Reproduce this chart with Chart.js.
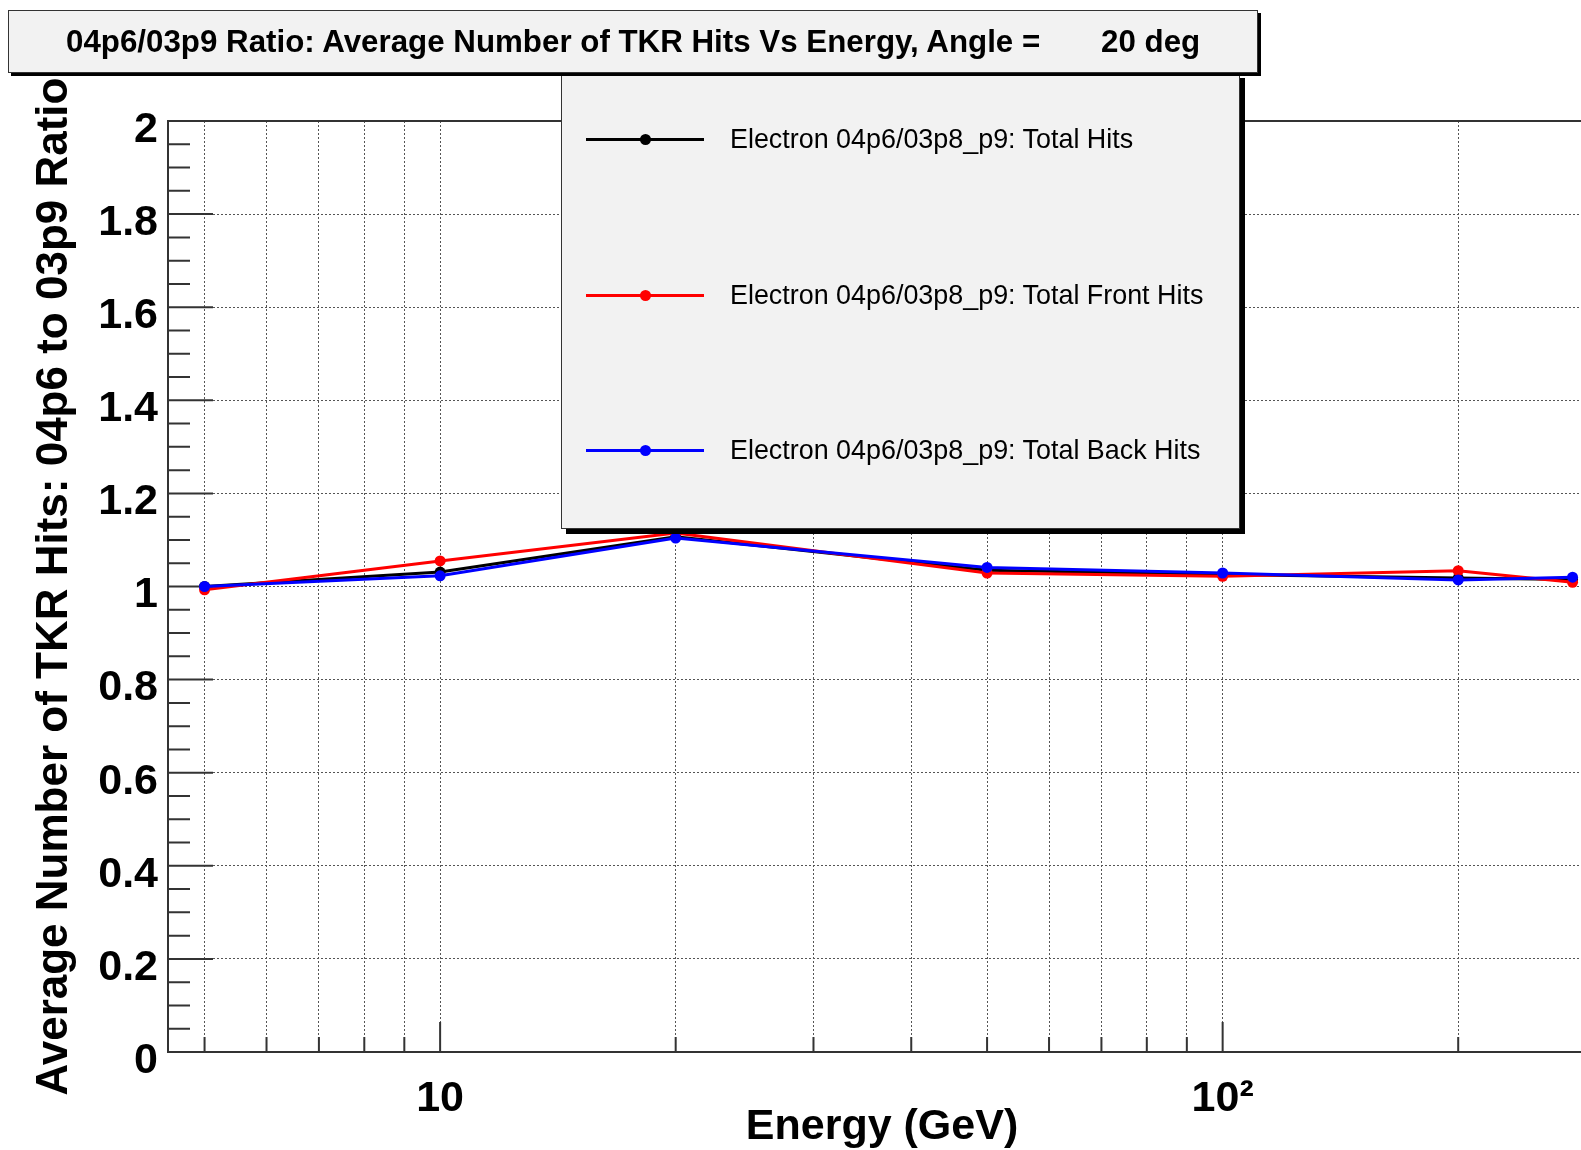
<!DOCTYPE html>
<html>
<head>
<meta charset="utf-8">
<script src="https://cdn.jsdelivr.net/npm/chart.js@4.4.1/dist/chart.umd.min.js"></script>
<style>
html, body { margin: 0; padding: 0; background: #fff; overflow: hidden; }
#wrap { position: relative; width: 1581px; height: 1150px; overflow: hidden; }
#plot { position: absolute; left: 0; top: 0; }
.box { position: absolute; background: #f2f2f2; border: 1px solid #333; font-family: "Liberation Sans", Arial, Helvetica, sans-serif; color: #000; }
#title { left: 8px; top: 10px; width: 1248px; height: 61px; box-shadow: 3px 3px 0 #000; z-index: 3; }
#title span { position: absolute; left: 57px; top: 0; line-height: 61px; font-size: 31.3px; font-weight: bold; white-space: pre; }
#legend { left: 561px; top: 73px; width: 677px; height: 454px; box-shadow: 5px 5px 0 #000; z-index: 2; }
.entry { position: absolute; left: 0; width: 670px; height: 40px; }
.entry .ln { position: absolute; left: 24px; top: 19px; width: 118px; height: 3px; }
.entry .dt { position: absolute; left: 78px; top: 15px; width: 11px; height: 11px; border-radius: 50%; }
.entry .tx { position: absolute; left: 168px; top: 0; line-height: 40px; font-size: 26.9px; white-space: pre; }
</style>
</head>
<body>
<div id="wrap">
  <canvas id="plot" width="1617" height="1150"></canvas>
  <div id="title" class="box"><span>04p6/03p9 Ratio: Average Number of TKR Hits Vs Energy, Angle =       20 deg</span></div>
  <div id="legend" class="box"></div>
</div>
<script>
// energies (GeV) and 04p6/03p8_p9 ratios
var energies   = [5, 10, 20, 50, 100, 200, 280];
var totalHits  = [1.000, 1.031, 1.107, 1.035, 1.026, 1.018, 1.015];
var frontHits  = [0.993, 1.055, 1.115, 1.029, 1.022, 1.034, 1.009];
var backHits   = [1.000, 1.023, 1.104, 1.041, 1.029, 1.014, 1.020];

var seriesNames  = ['Electron 04p6/03p8_p9: Total Hits', 'Electron 04p6/03p8_p9: Total Front Hits', 'Electron 04p6/03p8_p9: Total Back Hits'];
var seriesColors = ['#000000', '#ff0000', '#0000ff'];

var xTickValues = [5, 6, 7, 8, 9, 10, 20, 30, 40, 50, 60, 70, 80, 90, 100, 200, 300];
var xTickLabels = {10: '10', 100: '10\u00b2'};
var yTickValues = [0, 0.2, 0.4, 0.6, 0.8, 1, 1.2, 1.4, 1.6, 1.8, 2];

var FONT = '"Liberation Sans", Arial, Helvetica, sans-serif';

// legend box (html, like the ROOT TLegend)
var legendRowsY = [65, 221, 376];
var legendEl = document.getElementById('legend');
seriesNames.forEach(function(name, i) {
    var row = document.createElement('div');
    row.className = 'entry';
    row.style.top = (legendRowsY[i] - 20) + 'px';
    row.innerHTML = '<div class="ln" style="background:' + seriesColors[i] + '"></div>' +
        '<div class="dt" style="background:' + seriesColors[i] + '"></div>' +
        '<span class="tx">' + name + '</span>';
    legendEl.appendChild(row);
});

// inside tick marks + frame, ROOT style
const rootFrame = {
    id: 'rootFrame',
    beforeDatasetsDraw(chart) {
        const ctx = chart.ctx;
        const a = chart.chartArea;
        const x = chart.scales.x, y = chart.scales.y;
        ctx.save();
        ctx.strokeStyle = '#333';
        ctx.lineWidth = 2;
        ctx.beginPath();
        ctx.moveTo(a.left, a.top);
        ctx.lineTo(a.right, a.top);
        for (let i = 0; i <= 40; i++) {
            const py = y.getPixelForValue(i * 0.05);
            const len = (i % 4 === 0) ? 45 : 22;
            ctx.moveTo(a.left, py);
            ctx.lineTo(a.left + len, py);
        }
        xTickValues.forEach(function(v) {
            const px = x.getPixelForValue(v);
            const len = (v === 10 || v === 100) ? 30 : 15;
            ctx.moveTo(px, a.bottom);
            ctx.lineTo(px, a.bottom - len);
        });
        ctx.stroke();
        ctx.restore();
    }
};

function makeSet(label, data, color, order) {
    return {
        label: label,
        data: energies.map(function(e, i) { return {x: e, y: data[i]}; }),
        borderColor: color,
        backgroundColor: color,
        pointBackgroundColor: color,
        pointBorderColor: color,
        borderWidth: 3,
        pointRadius: 5.5,
        pointBorderWidth: 0,
        tension: 0,
        order: order
    };
}

new Chart(document.getElementById('plot'), {
    type: 'line',
    data: {
        datasets: [
            makeSet(seriesNames[0], totalHits, seriesColors[0], 3),
            makeSet(seriesNames[1], frontHits, seriesColors[1], 2),
            makeSet(seriesNames[2], backHits, seriesColors[2], 1)
        ]
    },
    options: {
        responsive: false,
        animation: false,
        devicePixelRatio: 1,
        layout: { padding: { left: 0, right: 21, top: 121, bottom: 0 } },
        plugins: { legend: { display: false }, tooltip: { enabled: false } },
        scales: {
            x: {
                type: 'logarithmic',
                min: 4.49,
                max: 300,
                afterBuildTicks: function(scale) {
                    scale.ticks = xTickValues.map(function(v) { return {value: v}; });
                },
                afterFit: function(scale) { scale.height = 98; },
                ticks: {
                    autoSkip: false,
                    maxRotation: 0,
                    padding: 21,
                    color: '#000',
                    font: { family: FONT, size: 43, weight: 'bold' },
                    callback: function(v) { return xTickLabels[v] || ''; }
                },
                grid: { color: '#555', lineWidth: 1, drawTicks: false },
                border: { display: true, color: '#333', width: 2, dash: [2, 2] },
                title: {
                    display: true,
                    text: 'Energy (GeV)',
                    color: '#000',
                    font: { family: FONT, size: 43, weight: 'bold', lineHeight: 1.05 },
                    padding: { top: 0, bottom: 0 }
                }
            },
            y: {
                min: 0,
                max: 2,
                afterBuildTicks: function(scale) {
                    scale.ticks = yTickValues.map(function(v) { return {value: v}; });
                },
                afterFit: function(scale) { scale.width = 168; },
                ticks: {
                    padding: 10,
                    labelOffset: 9,
                    color: '#000',
                    font: { family: FONT, size: 43, weight: 'bold' },
                    callback: function(v) { return String(Math.round(v * 10) / 10); }
                },
                grid: { color: '#555', lineWidth: 1, drawTicks: false },
                border: { display: true, color: '#333', width: 2, dash: [2, 2] },
                title: {
                    display: true,
                    text: 'Average Number of TKR Hits: 04p6 to 03p9 Ratio',
                    color: '#000',
                    font: { family: FONT, size: 44, weight: 'bold', lineHeight: 1.2 },
                    padding: { top: 28, bottom: 0 }
                }
            }
        }
    },
    plugins: [rootFrame]
});
</script>
</body>
</html>
